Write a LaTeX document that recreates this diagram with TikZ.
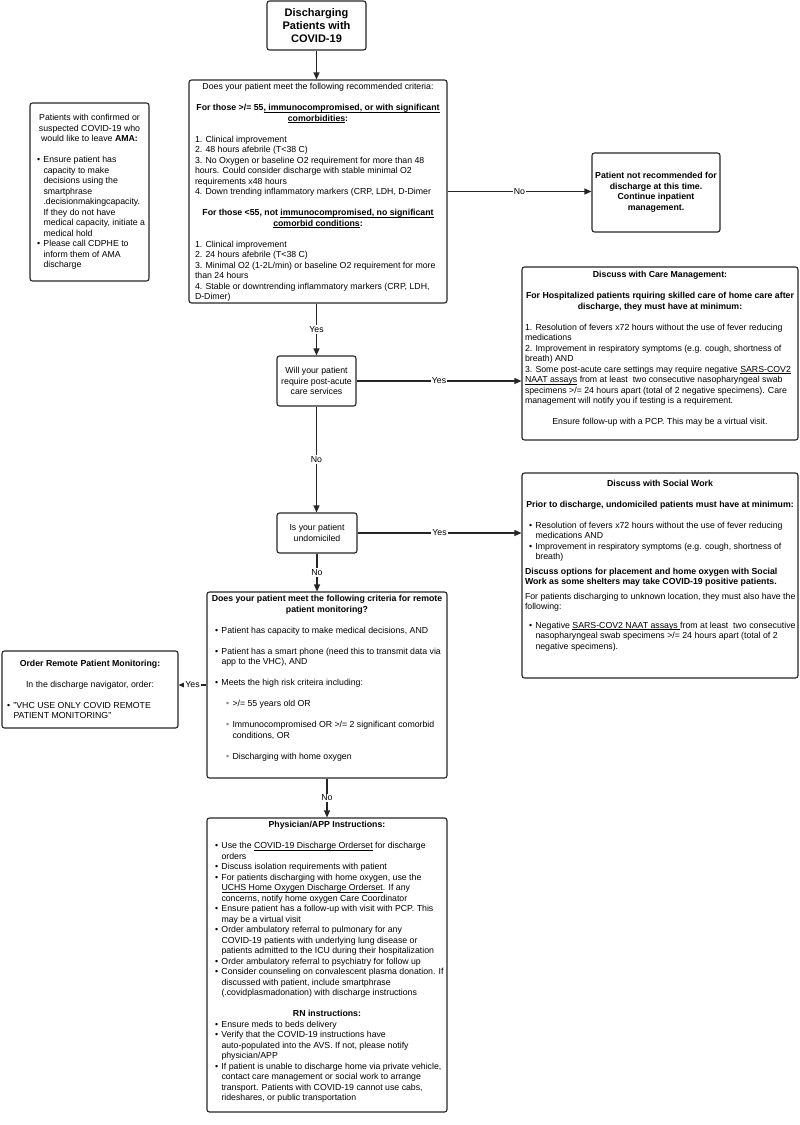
\documentclass[tikz,border=0pt]{standalone}
\usepackage{fontspec}
\setmainfont{Liberation Sans}
\usetikzlibrary{arrows.meta}

\newlength{\bulin}
\newcommand{\skipline}{\par\vspace{10.5pt}}
\newcommand{\undl}[1]{\leavevmode\setbox0=\hbox{#1}\rlap{\rule[-1.6pt]{\wd0}{0.6pt}}\box0\relax}
\newcommand{\ctrblock}[1]{{\centering\leftskip=-10pt plus 1fil\rightskip=-10pt plus 1fil #1\par}}
\newcommand{\bitem}[1]{\par\hangindent=\dimexpr\bulin+6.5pt\relax\hangafter=1
  \noindent\hspace*{\bulin}\makebox[6.5pt][l]{\textbullet}#1\par}
\newcommand{\subbit}[1]{\par\hangindent=\dimexpr\bulin+17.5pt\relax\hangafter=1
  \noindent\hspace*{\dimexpr\bulin+11pt\relax}\makebox[6.5pt][l]{\textcolor{gray}{\textbullet}}#1\par}
\newcommand{\boxtext}[6]{\parbox[c][#2][#3]{#1}{\leftskip=#4\rightskip=-10pt plus 1fil
  \parindent=0pt\vspace*{#5}#6}}

\begin{document}
\begin{tikzpicture}[%
      x=1pt, y=-1pt,
      box/.style={draw=black!85, line width=1.1pt, rounded corners=2.5pt, inner sep=0pt,
        font=\fontsize{8.75}{10.5}\selectfont},
      tag/.style={fill=white, inner sep=1pt, font=\fontsize{8.75}{10.5}\selectfont},
      arr/.style={draw=black!85, line width=1.1pt, -{Triangle[length=7pt,width=6pt]}},
      ]
      \useasboundingbox (0,0) rectangle (800,1125);

      \node [box, align=center, minimum width=99, minimum height=49,
        font=\fontsize{11}{13.2}\selectfont\bfseries] (start) at (316.5,25.5)
        {Discharging\\Patients with\\COVID-19};

      \node [box] (crit) at (318,191.5) {\boxtext{258pt}{223pt}{t}{6pt}{3.5pt}{%
        \ctrblock{Does your patient meet the following recommended criteria:}
        \skipline
        \ctrblock{\bfseries For those >/= 55\undl{, immunocompromised, or with significant}\\
          \undl{comorbidities}:}
        \skipline
        1. Clinical improvement\\
        2. 48 hours afebrile (T<38 C)\\
        3. No Oxygen or baseline O2 requirement for more than 48\\
        hours. Could consider discharge with stable minimal O2\\
        requirements x48 hours\\
        4. Down trending inflammatory markers (CRP, LDH, D-Dimer\par
        \skipline
        \ctrblock{\bfseries For those <55, not \undl{immunocompromised, no significant}\\
          \undl{comorbid conditions}:}
        \skipline
        1. Clinical improvement\\
        2. 24 hours afebrile (T<38 C)\\
        3. Minimal O2 (1-2L/min) or baseline O2 requirement for more\\
        than 24 hours\\
        4. Stable or downtrending inflammatory markers (CRP, LDH,\\
        D-Dimer)\par}};

      \node [box] (ama) at (89.5,192) {\boxtext{119pt}{178pt}{c}{7pt}{0pt}{%
        \ctrblock{Patients with confirmed or\\ suspected COVID-19 who\\
          would like to leave \textbf{AMA:}}
        \skipline
        \bitem{Ensure patient has\\ capacity to make\\ decisions using the\\ smartphrase\\
          .decisionmakingcapacity.\\ If they do not have\\ medical capacity, initiate a\\
          medical hold}
        \bitem{Please call CDPHE to\\ inform them of AMA\\ discharge}}};

      \node [box, align=center, minimum width=128, minimum height=79, font=\fontsize{8.75}{10.5}\selectfont\bfseries]
        (stay) at (656,192.5)
        {Patient not recommended for\\discharge at this time.\\Continue inpatient\\management.};

      \node [box, align=center, minimum width=79, minimum height=50] (postacute) at (316.5,381)
        {Will your patient\\require post-acute\\care services};

      \node [box] (caremgmt) at (660,353.5) {\boxtext{276pt}{173pt}{t}{3pt}{4.5pt}{%
        \ctrblock{\bfseries Discuss with Care Management:}
        \skipline
        \ctrblock{\bfseries For Hospitalized patients rquiring skilled care of home care after\\
          discharge, they must have at minimum:}
        \skipline
        1. Resolution of fevers x72 hours without the use of fever reducing\\
        medications\\
        2. Improvement in respiratory symptoms (e.g. cough, shortness of\\
        breath) AND\\
        3. Some post-acute care settings may require negative \undl{SARS-COV2}\\
        \undl{NAAT assays} from at least \ two consecutive nasopharyngeal swab\\
        specimens >/= 24 hours apart (total of 2 negative specimens). Care\\
        management will notify you if testing is a requirement.\par
        \skipline
        \ctrblock{Ensure follow-up with a PCP. This may be a virtual visit.}}};

      \node [box, align=center, minimum width=80, minimum height=40] (homeless) at (317,533)
        {Is your patient\\undomiciled};

      \node [box] (socialwork) at (660,575.5) {\boxtext{276pt}{205pt}{t}{3pt}{7pt}{%
        \setlength{\bulin}{4pt}%
        \ctrblock{\bfseries Discuss with Social Work}
        \skipline
        \ctrblock{\bfseries Prior to discharge, undomiciled patients must have at minimum:}
        \skipline
        \bitem{Resolution of fevers x72 hours without the use of fever reducing\\ medications AND}
        \bitem{Improvement in respiratory symptoms (e.g. cough, shortness of\\ breath)}
        \vspace{4pt}
        {\bfseries Discuss options for placement and home oxygen with Social\\
          Work as some shelters may take COVID-19 positive patients.\par}
        \vspace{4pt}
        For patients discharging to unknown location, they must also have the\\
        following:\par
        \vspace{8pt}
        \bitem{Negative \undl{SARS-COV2 NAAT assays }from at least \ two consecutive\\
          nasopharyngeal swab specimens >/= 24 hours apart (total of 2\\
          negative specimens).}}};

      \node [box] (remote) at (327,685) {\boxtext{240pt}{186pt}{t}{8pt}{3.5pt}{%
        \ctrblock{\bfseries Does your patient meet the following criteria for remote\\
          patient monitoring?}
        \skipline
        \bitem{Patient has capacity to make medical decisions, AND}
        \skipline
        \bitem{Patient has a smart phone (need this to transmit data via\\ app to the VHC), AND}
        \skipline
        \bitem{Meets the high risk criteira including:}
        \skipline
        \subbit{>/= 55 years old OR}
        \skipline
        \subbit{Immunocompromised OR >/= 2 significant comorbid\\ conditions, OR}
        \skipline
        \subbit{Discharging with home oxygen}}};

      \node [box] (order) at (90,689.5) {\boxtext{176pt}{77pt}{c}{5pt}{0pt}{%
        \ctrblock{\bfseries Order Remote Patient Monitoring:}
        \skipline
        \ctrblock{In the discharge navigator, order:}
        \skipline
        \bitem{"VHC USE ONLY COVID REMOTE\\ PATIENT MONITORING"}}};

      \node [box] (instructions) at (327,965) {\boxtext{240pt}{294pt}{t}{8pt}{3.5pt}{%
        \ctrblock{\bfseries Physician/APP Instructions:}
        \skipline
        \bitem{Use the \undl{COVID-19 Discharge Orderset} for discharge\\ orders}
        \bitem{Discuss isolation requirements with patient}
        \bitem{For patients discharging with home oxygen, use the\\
          \undl{UCHS Home Oxygen Discharge Orderset}. If any\\
          concerns, notify home oxygen Care Coordinator}
        \bitem{Ensure patient has a follow-up with visit with PCP. This\\ may be a virtual visit}
        \bitem{Order ambulatory referral to pulmonary for any\\
          COVID-19 patients with underlying lung disease or\\
          patients admitted to the ICU during their hospitalization}
        \bitem{Order ambulatory referral to psychiatry for follow up}
        \bitem{Consider counseling on convalescent plasma donation. If\\
          discussed with patient, include smartphrase\\
          (.covidplasmadonation) with discharge instructions}
        \skipline
        \ctrblock{\bfseries RN instructions:}
        \bitem{Ensure meds to beds delivery}
        \bitem{Verify that the COVID-19 instructions have\\
          auto-populated into the AVS. If not, please notify\\ physician/APP}
        \bitem{If patient is unable to discharge home via private vehicle,\\
          contact care management or social work to arrange\\
          transport. Patients with COVID-19 cannot use cabs,\\
          rideshares, or public transportation}}};

      \draw [arr] (start.south) -- (start.south |- crit.north);
      \draw [arr] (crit.east) -- node [tag] {No} (crit.east -| stay.west);
      \draw [arr] (postacute.north |- crit.south) -- node [tag] {Yes} (postacute.north);
      \draw [arr] (postacute.east) -- node [tag] {Yes} (postacute.east -| caremgmt.west);
      \draw [arr] (postacute.south) -- node [tag] {No} (postacute.south |- homeless.north);
      \draw [arr] (homeless.east) -- node [tag] {Yes} (homeless.east -| socialwork.west);
      \draw [arr] (homeless.south) -- node [tag] {No} (homeless.south |- remote.north);
      \draw [arr] (remote.west) -- node [tag] {Yes} (remote.west -| order.east);
      \draw [arr] (remote.south) -- node [tag] {No} (remote.south |- instructions.north);
\end{tikzpicture}
\end{document}
